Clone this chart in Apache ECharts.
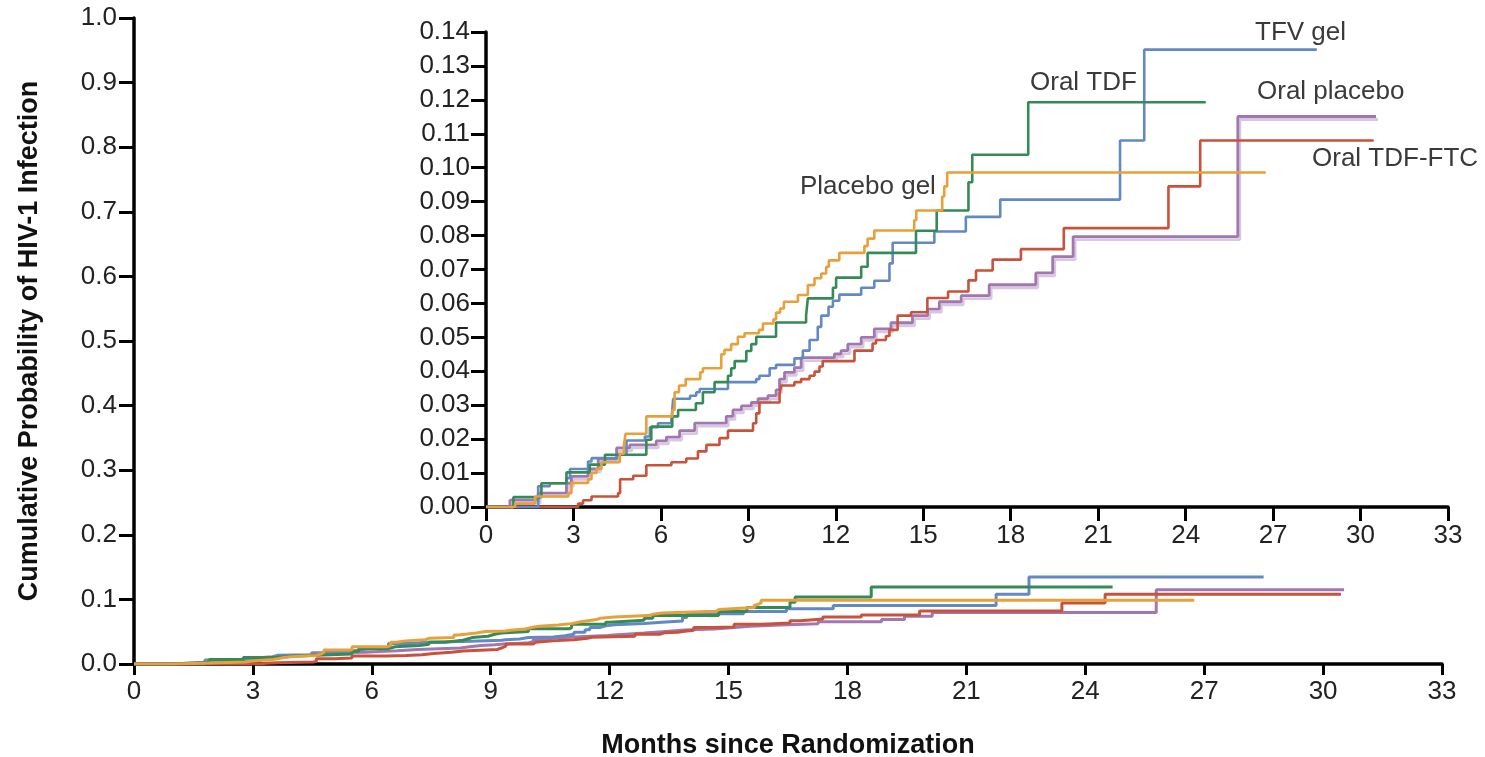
<!DOCTYPE html>
<html>
<head>
<meta charset="utf-8">
<script src="https://cdn.jsdelivr.net/npm/echarts@6/dist/echarts.min.js"></script>
<style>
html,body{margin:0;padding:0;background:#fff;}
#chart{width:1485px;height:757px;}
</style>
</head>
<body>
<div id="chart"></div>
<script>
// ---- Data (months since randomization, cumulative probability) ----
const xTicks = [0, 3, 6, 9, 12, 15, 18, 21, 24, 27, 30, 33];
const mainYTicks = [0.0, 0.1, 0.2, 0.3, 0.4, 0.5, 0.6, 0.7, 0.8, 0.9, 1.0];
const insetYTicks = [0.00, 0.01, 0.02, 0.03, 0.04, 0.05, 0.06, 0.07, 0.08, 0.09, 0.10, 0.11, 0.12, 0.13, 0.14];

const seriesNames = ["Oral placebo", "Oral TDF-FTC", "TFV gel", "Oral TDF", "Placebo gel"];

const oralPlaceboMonths = [0, 0.82, 1.79, 2.76, 2.93, 3.5, 3.85, 4.48, 4.93, 5.84, 6.19, 6.64, 7.16, 8.24, 8.47, 8.76, 9.1, 9.33, 9.67, 9.95, 10.07, 10.24, 10.58, 10.81, 11.95, 12.18, 12.41, 12.87, 13.32, 13.89, 14.63, 15.15, 15.55, 16.3, 17.26, 18.86, 19.44, 20.14, 25.79, 30.53];
const oralPlaceboValues = [0, 0.002, 0.0041, 0.007, 0.009, 0.0112, 0.0141, 0.0174, 0.0183, 0.0195, 0.0206, 0.0225, 0.0247, 0.0267, 0.0286, 0.0298, 0.0308, 0.0319, 0.0328, 0.0345, 0.0377, 0.0397, 0.0411, 0.044, 0.0451, 0.0461, 0.048, 0.05, 0.0525, 0.0543, 0.0564, 0.0583, 0.0605, 0.0623, 0.0655, 0.069, 0.0738, 0.0797, 0.1151, 0.1151];

const oralTdfFtcMonths = [0, 3.16, 3.33, 3.62, 4.53, 4.6, 5.05, 5.5, 6.36, 6.87, 7.27, 7.56, 8.01, 8.3, 9.16, 9.27, 9.38, 10.07, 10.13, 10.58, 10.81, 11.1, 11.27, 11.44, 11.55, 12.64, 13.26, 13.38, 13.72, 13.84, 14.12, 14.58, 15.14, 15.85, 16.55, 16.81, 17.38, 18.35, 19.82, 23.41, 24.5, 30.45];
const oralTdfFtcValues = [0, 0.001, 0.002, 0.0031, 0.0041, 0.0082, 0.0092, 0.0123, 0.0132, 0.0143, 0.0164, 0.0183, 0.0203, 0.0225, 0.0247, 0.0276, 0.0308, 0.0335, 0.0358, 0.0368, 0.0377, 0.0387, 0.0399, 0.0414, 0.043, 0.0461, 0.0482, 0.0492, 0.0504, 0.0522, 0.0564, 0.0574, 0.0616, 0.0635, 0.0668, 0.0697, 0.0729, 0.076, 0.0822, 0.0945, 0.108, 0.108];

const tfvGelMonths = [0, 1.79, 2.19, 2.76, 2.88, 3.5, 3.62, 4.5, 4.82, 5.45, 5.62, 5.9, 6.36, 6.42, 7.0, 7.21, 7.33, 8.3, 9.27, 9.38, 9.73, 9.95, 10.58, 10.87, 11.1, 11.38, 11.5, 11.75, 11.9, 12.12, 12.87, 13.32, 13.84, 13.95, 15.38, 16.46, 17.64, 21.75, 22.58, 28.5];
const tfvGelValues = [0, 0.0061, 0.007, 0.0085, 0.0112, 0.0134, 0.0144, 0.0154, 0.0196, 0.0208, 0.0235, 0.0247, 0.0257, 0.0319, 0.0328, 0.0338, 0.0348, 0.0368, 0.0377, 0.0387, 0.0409, 0.0419, 0.0438, 0.0461, 0.0492, 0.0531, 0.0564, 0.059, 0.0608, 0.0626, 0.0646, 0.0667, 0.0718, 0.0779, 0.0812, 0.0855, 0.0906, 0.108, 0.1348, 0.1348];

const oralTdfMonths = [0, 0.94, 1.9, 2.76, 3.56, 4.08, 5.5, 5.67, 6.39, 6.59, 7.2, 7.44, 7.84, 8.3, 8.41, 8.53, 8.93, 9.1, 9.27, 9.95, 10.98, 11.04, 11.9, 12.01, 12.87, 13.09, 14.75, 15.46, 16.55, 16.68, 18.6, 24.69];
const oralTdfValues = [0, 0.0029, 0.007, 0.0102, 0.0125, 0.0154, 0.0198, 0.0237, 0.0267, 0.0286, 0.0306, 0.0338, 0.0368, 0.0387, 0.0409, 0.043, 0.046, 0.048, 0.0502, 0.0544, 0.0564, 0.0615, 0.0646, 0.0676, 0.0708, 0.0749, 0.0814, 0.0874, 0.0957, 0.1038, 0.1193, 0.1193];

const placeboGelMonths = [0, 1.0, 1.68, 2.82, 2.93, 3.5, 3.62, 3.79, 3.96, 4.59, 4.73, 4.79, 5.5, 6.39, 6.47, 6.62, 6.85, 7.35, 7.44, 8.07, 8.18, 8.41, 8.64, 8.87, 9.36, 9.5, 9.86, 9.95, 10.09, 10.22, 10.7, 11.04, 11.27, 11.5, 11.67, 11.76, 12.12, 12.98, 13.09, 13.32, 14.69, 14.76, 15.65, 15.72, 15.82, 26.75];
const placeboGelValues = [0, 0.001, 0.0031, 0.0041, 0.0071, 0.0082, 0.010, 0.0112, 0.0132, 0.0157, 0.0183, 0.0216, 0.0267, 0.0286, 0.0338, 0.0358, 0.0377, 0.0397, 0.0409, 0.045, 0.0463, 0.048, 0.0502, 0.0512, 0.0522, 0.0541, 0.0553, 0.0573, 0.0585, 0.0605, 0.0625, 0.0654, 0.0674, 0.0688, 0.0708, 0.0727, 0.0749, 0.0769, 0.0791, 0.0815, 0.0845, 0.0874, 0.0915, 0.0945, 0.0986, 0.0986];

// ---- Build chart ----
const FONT = "'Liberation Sans', Arial, sans-serif";
const colors = {
  "Oral placebo": "#a077b0",
  "Oral TDF-FTC": "#c9523b",
  "TFV gel": "#6389c5",
  "Oral TDF": "#358b57",
  "Placebo gel": "#e8a03b"
};
const monthsBy = {
  "Oral placebo": oralPlaceboMonths,
  "Oral TDF-FTC": oralTdfFtcMonths,
  "TFV gel": tfvGelMonths,
  "Oral TDF": oralTdfMonths,
  "Placebo gel": placeboGelMonths
};
const valuesBy = {
  "Oral placebo": oralPlaceboValues,
  "Oral TDF-FTC": oralTdfFtcValues,
  "TFV gel": tfvGelValues,
  "Oral TDF": oralTdfValues,
  "Placebo gel": placeboGelValues
};
function zip(a, b) { return a.map((v, i) => [v, b[i]]); }

const TICK_FS = 26;
const axisLineStyle = { color: '#000', width: 3.5 };
function xAxisCfg(gridIndex, tickLen, margin, withName) {
  const ax = {
    type: 'value', gridIndex: gridIndex, min: xTicks[0], max: xTicks[xTicks.length - 1], interval: 3,
    axisLine: { show: true, onZero: false, lineStyle: axisLineStyle },
    axisTick: { show: true, length: tickLen, lineStyle: { color: '#000', width: 3 } },
    axisLabel: { margin: margin, fontSize: TICK_FS, color: '#222', fontFamily: FONT },
    splitLine: { show: false }
  };
  if (withName) {
    ax.name = 'Months since Randomization';
    ax.nameLocation = 'middle';
    ax.nameGap = 68;
    ax.nameTextStyle = { fontSize: 27, fontWeight: 'bold', color: '#111', fontFamily: FONT };
  }
  return ax;
}
function yAxisCfg(gridIndex, ticks, interval, decimals, tickLen, margin, withName) {
  const ax = {
    type: 'value', gridIndex: gridIndex, min: ticks[0], max: ticks[ticks.length - 1], interval: interval,
    axisLine: { show: true, onZero: false, lineStyle: axisLineStyle },
    axisTick: { show: true, length: tickLen, lineStyle: { color: '#000', width: 3 } },
    axisLabel: { margin: margin, fontSize: TICK_FS, color: '#222', fontFamily: FONT,
      formatter: v => v.toFixed(decimals) },
    splitLine: { show: false }
  };
  if (withName) {
    ax.name = 'Cumulative Probability of HIV-1 Infection';
    ax.nameLocation = 'middle';
    ax.nameGap = 91;
    ax.nameTextStyle = { fontSize: 27, fontWeight: 'bold', color: '#111', fontFamily: FONT };
  }
  return ax;
}

const series = [];
seriesNames.forEach(name => {
  const data = zip(monthsBy[name], valuesBy[name]);
  series.push({
    name: name, type: 'line', step: 'end', xAxisIndex: 0, yAxisIndex: 0,
    data: data, symbol: 'none', silent: true,
    lineStyle: { color: colors[name], width: 3 }
  });
  const ls = { color: colors[name], width: 2.6 };
  if (name === 'Oral placebo') {
    ls.width = 2.8;
    ls.shadowColor = '#d8c7df';
    ls.shadowBlur = 0;
    ls.shadowOffsetX = 2;
    ls.shadowOffsetY = 3;
  }
  series.push({
    name: name + ' (inset)', type: 'line', step: 'end', xAxisIndex: 1, yAxisIndex: 1,
    data: data, symbol: 'none', silent: true, lineStyle: ls
  });
});

const labelFont = "26px " + FONT;
const labelColor = '#3a3a3a';
const option = {
  animation: false,
  backgroundColor: '#fff',
  grid: [
    { left: 134, top: 18, width: 1308, height: 646, outerBoundsMode: 'none', containLabel: false },
    { left: 486, top: 32, width: 962, height: 475, outerBoundsMode: 'none', containLabel: false }
  ],
  xAxis: [xAxisCfg(0, 11, 15, true), xAxisCfg(1, 14, 16, false)],
  yAxis: [
    yAxisCfg(0, mainYTicks, 0.1, 1, 15, 17, true),
    yAxisCfg(1, insetYTicks, 0.01, 2, 15, 16, false)
  ],
  series: series,
  graphic: [
    { type: 'text', left: 1255, top: 20, style: { text: 'TFV gel', font: labelFont, fill: labelColor } },
    { type: 'text', left: 1030, top: 70, style: { text: 'Oral TDF', font: labelFont, fill: labelColor } },
    { type: 'text', left: 1257, top: 79, style: { text: 'Oral placebo', font: labelFont, fill: labelColor } },
    { type: 'text', left: 1312, top: 146, style: { text: 'Oral TDF-FTC', font: labelFont, fill: labelColor } },
    { type: 'text', left: 800, top: 174, style: { text: 'Placebo gel', font: labelFont, fill: labelColor } }
  ]
};

const chart = echarts.init(document.getElementById('chart'), null, { renderer: 'canvas' });
chart.setOption(option);
</script>
</body>
</html>
